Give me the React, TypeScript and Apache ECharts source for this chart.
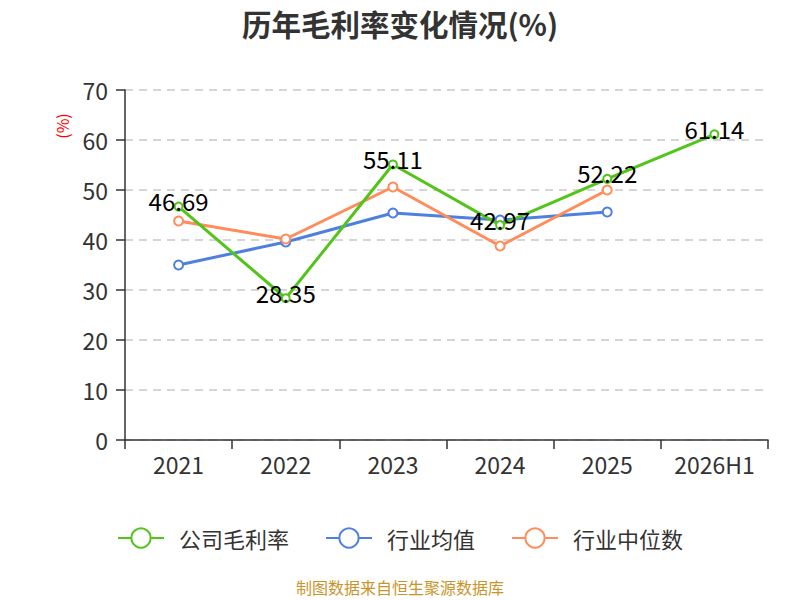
import React, { useEffect, useRef } from "react";
import * as echarts from "echarts";

const categories = ["2021", "2022", "2023", "2024", "2025", "2026H1"];
const companyMargin = [46.69, 28.35, 55.11, 42.97, 52.22, 61.14];
const industryAvg = [35.0, 39.6, 45.4, 44.0, 45.6, null];
const industryMedian = [43.8, 40.2, 50.6, 38.8, 50.0, null];
const yTicks = { min: 0, max: 70, interval: 10 };

export default function App() {
  const ref = useRef<HTMLDivElement>(null);
  useEffect(() => {
    if (!ref.current) return;
    const chart = echarts.init(ref.current, null, { renderer: "svg" });
    const font = "'Noto Sans CJK SC', 'Noto Sans', sans-serif";
    chart.setOption({
      animation: false,
      textStyle: { fontFamily: font },
      title: {
        text: "历年毛利率变化情况(%)",
        left: "center",
        top: 3,
        textStyle: { fontSize: 29.5, fontWeight: "bold", color: "#333", fontFamily: font },
      },
      grid: { left: 125, right: 32, top: 90, bottom: 160 },
      legend: {
        top: 522,
        left: "center",
        itemWidth: 46,
        itemHeight: 24,
        itemGap: 36,
        textStyle: { fontSize: 22, color: "#333", fontFamily: font, padding: [0, 0, 0, 10] },
        data: ["公司毛利率", "行业均值", "行业中位数"],
      },
      graphic: [
        {
          type: "text",
          left: "center",
          top: 579,
          style: { text: "制图数据来自恒生聚源数据库", fill: "#c8952a", fontSize: 16, fontFamily: font },
        },
        {
          type: "text",
          x: 62,
          y: 126,
          rotation: Math.PI / 2,
          style: {
            text: "(%)",
            fill: "#ff0000",
            fontSize: 16,
            fontFamily: font,
            align: "center",
            verticalAlign: "middle",
          },
        },
      ],
      xAxis: {
        type: "category",
        data: categories,
        axisLine: { lineStyle: { color: "#333", width: 1.5 } },
        axisTick: { show: true, length: 9, lineStyle: { color: "#333", width: 1.5 } },
        axisLabel: { fontSize: 23, color: "#333", margin: 12, fontFamily: font },
      },
      yAxis: {
        type: "value",
        min: yTicks.min,
        max: yTicks.max,
        interval: yTicks.interval,
        axisLine: { show: true, lineStyle: { color: "#333", width: 1.5 } },
        axisTick: { show: true, length: 9, lineStyle: { color: "#333", width: 1.5 } },
        axisLabel: { fontSize: 23, color: "#333", margin: 17, fontFamily: font },
        splitLine: { lineStyle: { type: [8, 6], color: "#c8c8c8", width: 1.5 } },
      },
      series: [
        {
          name: "公司毛利率",
          type: "line",
          data: companyMargin,
          symbol: "emptyCircle",
          symbolSize: 8,
          itemStyle: { color: "#52c41a" },
          lineStyle: { width: 3, color: "#52c41a" },
          label: { show: true, position: "top", distance: -11, fontSize: 24, color: "#000", fontFamily: font },
          z: 3,
        },
        {
          name: "行业均值",
          type: "line",
          data: industryAvg,
          symbol: "emptyCircle",
          symbolSize: 9,
          itemStyle: { color: "#4f80e0" },
          lineStyle: { width: 3, color: "#4f80e0" },
          z: 2,
        },
        {
          name: "行业中位数",
          type: "line",
          data: industryMedian,
          symbol: "emptyCircle",
          symbolSize: 9,
          itemStyle: { color: "#ff8c5a" },
          lineStyle: { width: 3, color: "#ff8c5a" },
          z: 2,
        },
      ],
    });
    return () => chart.dispose();
  }, []);
  return <div ref={ref} style={{ position: "absolute", left: 0, top: 0, width: 800, height: 600 }} />;
}
